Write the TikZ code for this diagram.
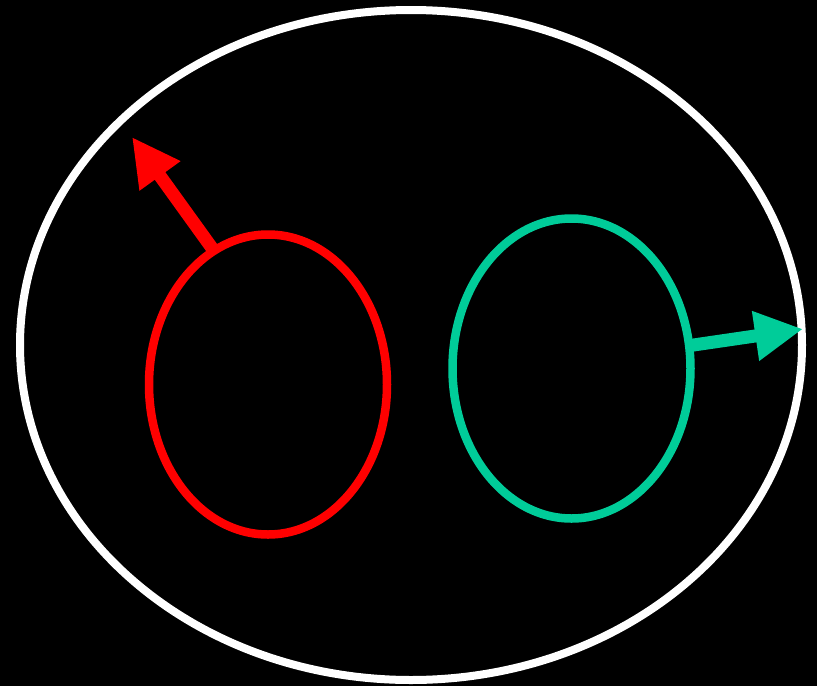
\documentclass[tikz,border=0pt]{standalone}
\usetikzlibrary{shapes.geometric,arrows.meta}
\definecolor{tealgreen}{HTML}{00CC99}
\begin{document}
\begin{tikzpicture}[x=1pt,y=-1pt,
  ring/.style={ellipse,draw,line width=8.5pt,inner sep=0pt,outer sep=0pt},
  bigarrow/.style={line width=13pt,-{Triangle[length=48pt,width=47pt]}}]
\fill[black] (0,0) rectangle (817,686);
\useasboundingbox (0,0) rectangle (817,686);
\node[ring,white,line width=8pt,minimum width=782pt,minimum height=670pt] (outer) at (411,345) {};
\node[ring,red,minimum width=238pt,minimum height=300pt] (redring) at (268,384.5) {};
\node[ring,tealgreen,minimum width=238pt,minimum height=300pt] (greenring) at (571.5,368.5) {};
\coordinate (redtip) at (132,137);
\coordinate (greentip) at (803,329);
\draw[bigarrow,red] (redring.112) -- (redtip);
\draw[bigarrow,tealgreen] (greenring.11) -- (greentip);
\end{tikzpicture}
\end{document}
